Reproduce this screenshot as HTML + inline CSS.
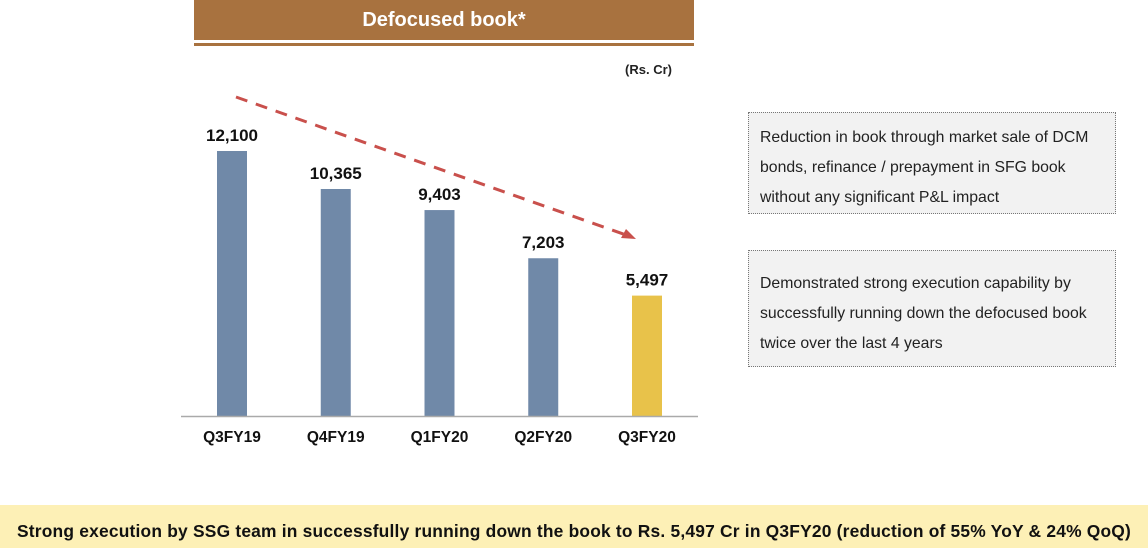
<!DOCTYPE html>
<html><head><meta charset="utf-8"><style>
body{margin:0;width:1148px;height:548px;background:#fff;position:relative;overflow:hidden;font-family:"Liberation Sans",Arial,sans-serif}
.hdr{position:absolute;left:194px;top:0;width:500px;height:40px;background:#a8723f;color:#fff;font-weight:bold;font-size:20px;text-align:center;line-height:40px}
.hline{position:absolute;left:194px;top:43px;width:500px;height:3px;background:#a8723f}
.box{position:absolute;left:748px;width:368px;background:#f2f2f2;border:1px dotted #777;box-sizing:border-box;font-size:15.8px;color:#222;line-height:30px;padding-left:11px;padding-right:12px}
.banner{position:absolute;left:0;top:505px;width:1148px;height:43px;background:#fdf0b6;font-weight:bold;font-size:17.4px;line-height:52px;text-align:center;color:#111;white-space:nowrap;letter-spacing:0.2px}
</style></head><body>
<div class="hdr">Defocused book*</div>
<div class="hline"></div>
<svg id="chart" width="1148" height="548" style="position:absolute;left:0;top:0"></svg>
<div class="box" style="top:112px;height:102px;padding-top:10px">Reduction in book through market sale of DCM bonds, refinance / prepayment in SFG book without any significant P&amp;L impact</div>
<div class="box" style="top:250px;height:117px;padding-top:18px">Demonstrated strong execution capability by successfully running down the defocused book twice over the last 4 years</div>
<div class="banner">Strong execution by SSG team in successfully running down the book to Rs. 5,497 Cr in Q3FY20 (reduction of 55% YoY &amp; 24% QoQ)</div>
<script>
const categories=["Q3FY19","Q4FY19","Q1FY20","Q2FY20","Q3FY20"];
const values=[12100,10365,9403,7203,5497];
const labels=["12,100","10,365","9,403","7,203","5,497"];
const svg=document.getElementById('chart');
const NS="http://www.w3.org/2000/svg";
const baseY=416,scale=265/12100,x0=232,step=103.75,bw=30;
function xPos(i){return x0+i*step;}
function yPos(v){return baseY-v*scale;}
function mk(tag,attrs){const e=document.createElementNS(NS,tag);for(const k in attrs)e.setAttribute(k,attrs[k]);svg.appendChild(e);return e;}
let t=mk('text',{x:672,y:74,'font-size':13,'font-weight':'bold','text-anchor':'end',fill:'#222'});t.textContent='(Rs. Cr)';


categories.forEach((c,i)=>{
 const r=mk('rect',{x:xPos(i)-bw/2,y:yPos(values[i]),width:bw,height:values[i]*scale,fill:i==categories.length-1?'#e8c24a':'#7089a8'});
 
 
 const v=mk('text',{x:xPos(i),y:yPos(values[i])-10,'font-size':17,'font-weight':'bold','text-anchor':'middle',fill:'#111'});v.textContent=labels[i];
 
 
 const l=mk('text',{x:xPos(i),y:442,'font-size':15.5,'font-weight':'bold','text-anchor':'middle',fill:'#111'});l.textContent=c;
 
 
});
const ax=mk('line',{x1:181,y1:416.5,x2:698,y2:416.5,stroke:'#aaa','stroke-width':1.5});


const tl=mk('line',{x1:236,y1:97,x2:626,y2:235,stroke:'#c9504c','stroke-width':3,'stroke-dasharray':'12 9'});


const ah=mk('polygon',{points:'636,239 621,238 626,229',fill:'#c9504c'});


</script>
</body></html>
